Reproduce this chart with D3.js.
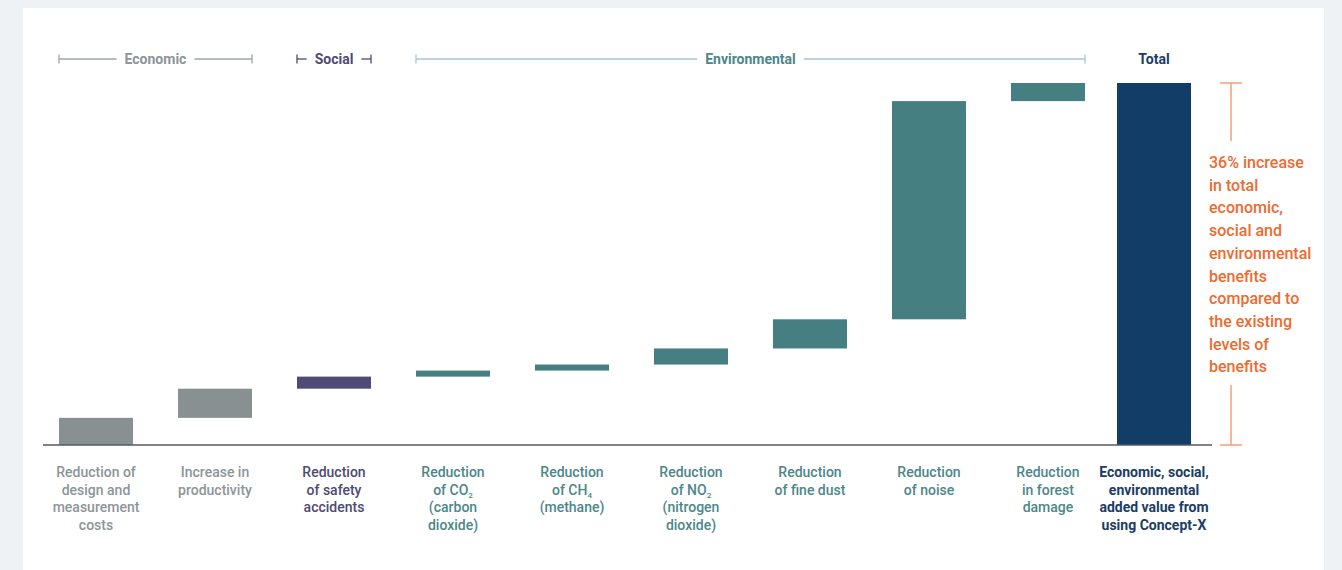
<!DOCTYPE html>
<html>
<head>
<meta charset="utf-8">
<script src="https://cdn.jsdelivr.net/npm/d3@7"></script>
<style>
  html, body { margin: 0; padding: 0; background: #eef2f5; }
  svg { display: block; font-family: Roboto, "Noto Sans", sans-serif; }
</style>
</head>
<body>
<div id="chart"></div>
<script>
// categories (line breaks as in the picture, "_" marks a subscript)
var categories = ["design", "productivity", "safety", "co2", "ch4", "no2", "dust", "noise", "forest"];
var categoryLabels = [
  ["Reduction of", "design and", "measurement", "costs"],
  ["Increase in", "productivity"],
  ["Reduction", "of safety", "accidents"],
  ["Reduction", "of CO_2", "(carbon", "dioxide)"],
  ["Reduction", "of CH_4", "(methane)"],
  ["Reduction", "of NO_2", "(nitrogen", "dioxide)"],
  ["Reduction", "of fine dust"],
  ["Reduction", "of noise"],
  ["Reduction", "in forest", "damage"]
];
var categoryGroup = ["Economic", "Economic", "Social", "Environmental", "Environmental",
                     "Environmental", "Environmental", "Environmental", "Environmental"];
// contribution of each item (% points of the total increase)
var values = [2.7, 2.9, 1.2, 0.6, 0.6, 1.6, 2.9, 21.7, 1.8];
var totalLabel = ["Economic, social,", "environmental", "added value from", "using Concept-X"];
var totalHeader = "Total";
var groups = ["Economic", "Social", "Environmental"];
var annotation = ["36% increase", "in total", "economic,", "social and", "environmental",
                  "benefits", "compared to", "the existing", "levels of", "benefits"];

var colours = {
  Economic: {bar: "#889092", text: "#8d9598", rule: "#9ea4a7"},
  Social: {bar: "#4f4a76", text: "#4e4a73", rule: "#4e4a73"},
  Environmental: {bar: "#467f82", text: "#4c8789", rule: "#a7c5d2"},
  Total: {bar: "#123d66", text: "#1b3d63"}
};
var orange = "#ee6a2e";

var W = 1342, H = 570;

// running totals for the waterfall
var cum = 0;
var steps = values.map(function(v, i) {
  var d = {key: categories[i], start: cum, end: cum + v, group: categoryGroup[i], label: categoryLabels[i]};
  cum += v;
  return d;
});
var total = cum;

// scales
var x = d3.scaleBand().domain(categories).range([59, 1085]).paddingInner(0.378).paddingOuter(0);
var xTotal = d3.scaleBand().domain(["total"])
  .range([x.range()[1] + 32, x.range()[1] + 32 + x.bandwidth()]);
var y = d3.scaleLinear().domain([0, total]).range([445, 83]);

var svg = d3.select("#chart").append("svg")
  .attr("width", W).attr("height", H);

// page panel
svg.append("rect")
  .attr("x", 23).attr("y", 8)
  .attr("width", 1301).attr("height", H - 8)
  .attr("fill", "#ffffff");

// waterfall bars
svg.selectAll("rect.step")
  .data(steps)
  .enter().append("rect")
    .attr("class", "step")
    .attr("x", function(d) { return x(d.key); })
    .attr("width", x.bandwidth())
    .attr("y", function(d) { return y(d.end); })
    .attr("height", function(d) { return y(d.start) - y(d.end); })
    .attr("fill", function(d) { return colours[d.group].bar; });

// total bar
svg.append("rect")
  .attr("x", xTotal("total"))
  .attr("width", xTotal.bandwidth())
  .attr("y", y(total))
  .attr("height", y(0) - y(total))
  .attr("fill", colours.Total.bar);

// baseline
svg.append("line")
  .attr("x1", 43).attr("x2", xTotal.range()[1] + 21)
  .attr("y1", y(0)).attr("y2", y(0))
  .attr("stroke", "#555a5c").attr("stroke-width", 1.4);

// write a multi-line label, "_x" gives a subscript
function addLines(sel, lines, lineHeight) {
  var shift = 0;
  lines.forEach(function(line, i) {
    var parts = line.split("_");
    sel.append("tspan")
      .attr("x", sel.attr("x"))
      .attr("dy", i === 0 ? 0 : lineHeight - shift)
      .text(parts[0]);
    shift = 0;
    if (parts.length > 1) {
      sel.append("tspan").attr("font-size", "8px").attr("dy", 3).text(parts[1]);
      shift = 3;
    }
  });
}

// category labels
steps.forEach(function(d) {
  var t = svg.append("text")
    .attr("x", x(d.key) + x.bandwidth() / 2)
    .attr("y", 477)
    .attr("text-anchor", "middle")
    .attr("font-size", "14px")
    .attr("font-weight", 500)
    .attr("fill", colours[d.group].text);
  addLines(t, d.label, 17.5);
});

var tt = svg.append("text")
  .attr("x", xTotal("total") + xTotal.bandwidth() / 2)
  .attr("y", 477)
  .attr("text-anchor", "middle")
  .attr("font-size", "14px")
  .attr("font-weight", 700)
  .attr("fill", colours.Total.text);
addLines(tt, totalLabel, 17.5);

// group headers with bracket rules
var headY = 59;
groups.forEach(function(g) {
  var keys = steps.filter(function(d) { return d.group === g; }).map(function(d) { return d.key; });
  var x0 = x(keys[0]), x1 = x(keys[keys.length - 1]) + x.bandwidth();
  var mid = (x0 + x1) / 2;
  var label = svg.append("text")
    .attr("x", mid).attr("y", headY + 5)
    .attr("text-anchor", "middle")
    .attr("font-size", "14px")
    .attr("font-weight", 700)
    .attr("fill", colours[g].text)
    .text(g);
  var half = label.node().getComputedTextLength() / 2 + 8;
  var rule = svg.append("g")
    .attr("stroke", colours[g].rule)
    .attr("stroke-width", 1.3);
  rule.append("line").attr("x1", x0).attr("x2", mid - half).attr("y1", headY).attr("y2", headY);
  rule.append("line").attr("x1", mid + half).attr("x2", x1).attr("y1", headY).attr("y2", headY);
  rule.append("line").attr("x1", x0).attr("x2", x0).attr("y1", headY - 4.5).attr("y2", headY + 4.5);
  rule.append("line").attr("x1", x1).attr("x2", x1).attr("y1", headY - 4.5).attr("y2", headY + 4.5);
});

svg.append("text")
  .attr("x", xTotal("total") + xTotal.bandwidth() / 2)
  .attr("y", headY + 5)
  .attr("text-anchor", "middle")
  .attr("font-size", "14px")
  .attr("font-weight", 700)
  .attr("fill", colours.Total.text)
  .text(totalHeader);

// orange bracket showing the total increase
var bx = xTotal.range()[1] + 40;
var br = svg.append("g")
  .attr("stroke", "#f3a07c")
  .attr("stroke-width", 1.5);
br.append("line").attr("x1", bx - 11).attr("x2", bx + 11).attr("y1", y(total)).attr("y2", y(total));
br.append("line").attr("x1", bx - 11).attr("x2", bx + 11).attr("y1", y(0)).attr("y2", y(0));
br.append("line").attr("x1", bx).attr("x2", bx).attr("y1", y(total)).attr("y2", 141);
br.append("line").attr("x1", bx).attr("x2", bx).attr("y1", 385).attr("y2", y(0));

var at = svg.append("text")
  .attr("x", xTotal.range()[1] + 18)
  .attr("y", 168)
  .attr("font-size", "16px")
  .attr("font-weight", 500)
  .attr("fill", orange);
addLines(at, annotation, 22.7);
</script>
</body>
</html>
